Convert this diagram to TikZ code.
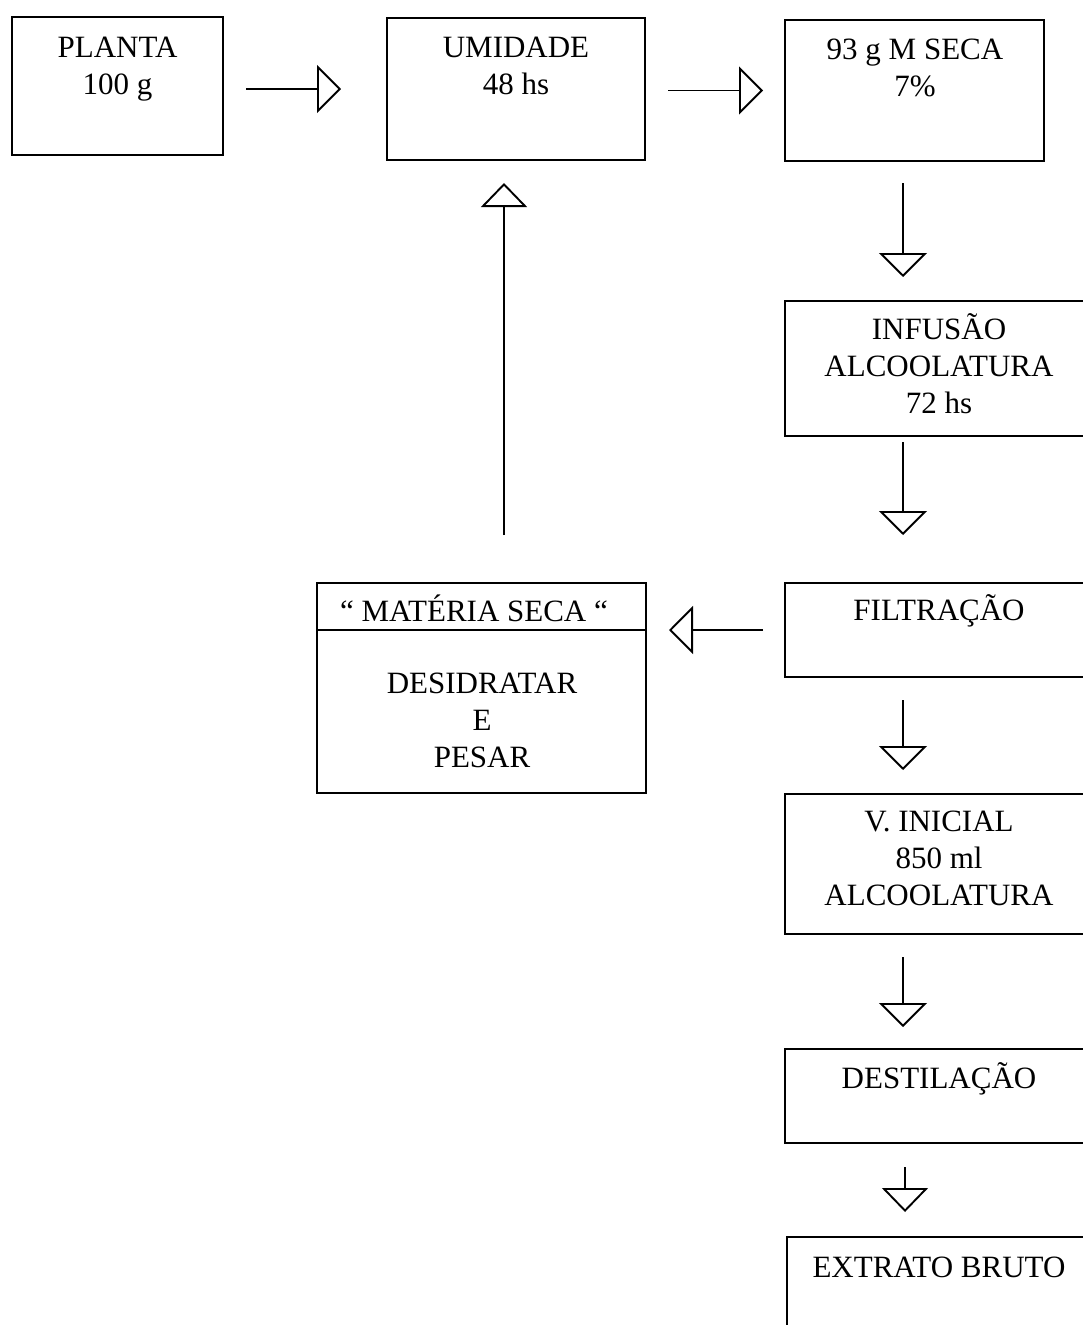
\documentclass[tikz,border=0pt]{standalone}
\usepackage{fontspec}
\setmainfont{Liberation Serif}
\usetikzlibrary{arrows.meta,calc}
\begin{document}
\begin{tikzpicture}[x=1pt,y=-1pt,
  box/.style={draw=black,line width=2.2pt,inner sep=0pt,outer sep=0pt,anchor=north west},
  txt/.style={align=center,inner sep=0pt,font=\fontsize{31}{37}\selectfont},
  arr/.style={line width=1.7pt,-{Triangle[open,length=24pt,width=48pt,line width=1.9pt]}},
  arrs/.style={line width=1.7pt,-{Triangle[open,length=24pt,width=46pt,line width=1.9pt]}}]
\useasboundingbox (0,0) rectangle (1083,1325);
\fill[white] (0,0) rectangle (1083,1325);
\begin{scope}
\clip (0,0) rectangle (1083,1325);
% boxes
\node[box,minimum width=211pt,minimum height=138pt] (planta) at (12,17) {};
\node[box,minimum width=258pt,minimum height=142pt] (umid) at (387,18) {};
\node[box,minimum width=259pt,minimum height=141pt] (seca) at (785,20) {};
\node[box,minimum width=308pt,minimum height=135pt] (infus) at (785,301) {};
\node[box,minimum width=308pt,minimum height=94pt] (filt) at (785,583) {};
\node[box,minimum width=329pt,minimum height=210pt] (mat) at (317,583) {};
\node[box,minimum width=308pt,minimum height=140pt] (vini) at (785,794) {};
\node[box,minimum width=308pt,minimum height=94pt] (dest) at (785,1049) {};
\node[box,minimum width=306pt,minimum height=180pt] (extr) at (787,1237) {};
\draw[line width=2.2pt] ($(mat.north west)+(0,47)$) -- ($(mat.north east)+(0,47)$);
% texts
\node[txt] (tplanta) at (117.5,69) {PLANTA\\100 g};
\node[txt] (tumid) at (516,65.5) {UMIDADE\\48 hs};
\node[txt] (tseca) at (915,67.5) {93 g M SECA\\7\%};
\node[txt] (tinfus) at (939,363.5) {INFUSÃO\\ALCOOLATURA\\72 hs};
\node[txt] (tfilt) at (939,611) {FILTRAÇÃO};
\node[txt] (tmattit) at (474,608) {“ MATÉRIA SECA “};
\node[txt] (tmat) at (482,720) {DESIDRATAR\\E\\PESAR};
\node[txt] (tvini) at (939,858) {V. INICIAL\\850 ml\\ALCOOLATURA};
\node[txt] (tdest) at (939,1079) {DESTILAÇÃO};
\node[txt] (textr) at (939,1267) {EXTRATO BRUTO};
% connectors
\draw[arr,shorten <=23pt,shorten >=46pt] (planta.east |- umid.west) -- (umid.west);
\draw[arr,shorten <=23pt,shorten >=22pt] (umid.east |- seca.west) -- (seca.west);
\draw[arr,shorten <=22pt,shorten >=24pt] ($(seca.south west)+(118,0)$) -- ($(infus.north west)+(118,0)$);
\draw[arr,shorten <=6pt,shorten >=48pt] ($(infus.south west)+(118,0)$) -- ($(filt.north west)+(118,0)$);
\draw[arr,shorten <=22pt,shorten >=23pt] (filt.west) -- (filt.west -| mat.east);
\draw[arr,shorten <=23pt,shorten >=24pt] ($(filt.south west)+(118,0)$) -- ($(vini.north west)+(118,0)$);
\draw[arr,shorten <=23pt,shorten >=22pt] ($(vini.south west)+(118,0)$) -- ($(dest.north west)+(118,0)$);
\draw[arrs,shorten <=24pt,shorten >=25pt] ($(dest.south west)+(120,0)$) -- ($(extr.north west)+(118,0)$);
\draw[arrs,shorten <=48pt,shorten >=23pt] ($(mat.north west)+(187,0)$) -- ($(umid.south west)+(117,0)$);
\end{scope}
\end{tikzpicture}
\end{document}
